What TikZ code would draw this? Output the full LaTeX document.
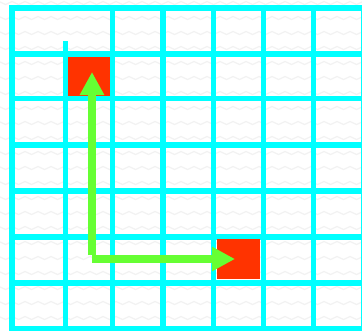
\documentclass[tikz,border=0pt]{standalone}
\usepackage{tikz}
\usetikzlibrary{arrows.meta,decorations.pathmorphing}

\definecolor{gridcyan}{HTML}{00FFFF}
\definecolor{markred}{HTML}{FF3300}
\definecolor{routegreen}{HTML}{66FF33}

\tikzset{
  gridline/.style={gridcyan, line width=5.5pt},
  cellmark/.style={fill=markred, draw=none, inner sep=0pt},
  route/.style={routegreen, line width=7.5pt, -{Triangle[width=23pt,length=23pt]}},
  wavy/.style={gray!10, line width=1.2pt, decorate,
    decoration={snake, amplitude=1.5pt, segment length=13pt}}
}

\begin{document}
\begin{tikzpicture}[x=1pt,y=-1pt]
        \useasboundingbox (0,0) rectangle (362,330);
        \clip (0,0) rectangle (362,330);
        \fill[white] (0,0) rectangle (362,330);
        % paper texture
        \foreach \y in {3,18,...,333}
          \draw[wavy] (-5,\y) -- (370,\y);
        % grid
        \foreach \x in {12,112.7,163,213.3,263.3,313.3,363.3}
          \draw[gridline] (\x,5.25) -- (\x,334);
        \draw[gridline] (65.5,41) -- (65.5,334);
        \foreach \y in {8,54,98.3,145,191,237,283,329}
          \draw[gridline] (9.25,\y) -- (366,\y);
        % cells
        \node[cellmark, minimum width=42pt, minimum height=39pt] (start) at (89,76.5) {};
        \node[cellmark, minimum width=43.3pt, minimum height=40pt] (goal) at (238.3,259) {};
        % route
        \coordinate (corner) at (92,255);
        \coordinate (uptip) at (92,72);
        \coordinate (bend) at (92,259);
        \coordinate (sidetip) at (235,259);
        \draw[route] (corner) -- (uptip);
        \draw[route] (bend) -- (sidetip);
      \end{tikzpicture}
\end{document}
